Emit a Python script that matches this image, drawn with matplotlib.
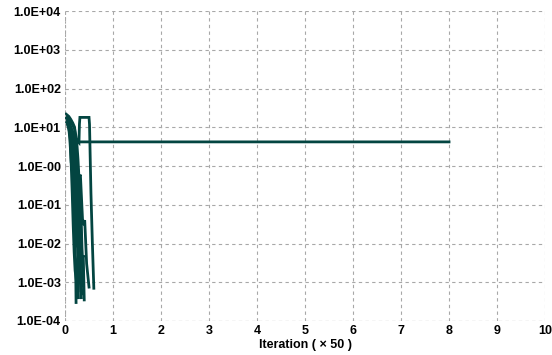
import matplotlib
matplotlib.use('Agg')
import matplotlib.pyplot as plt
from matplotlib.ticker import FixedLocator, FixedFormatter

# residual histories, x in units of 50 iterations
S1_X = [0.0, 0.03, 0.06, 0.09, 0.12, 0.14, 0.16, 0.17, 0.18, 0.19, 0.20, 0.21, 0.22, 0.23]
S1_Y = [20, 18, 14, 11, 6, 2.0, 2.5, 0.3, 0.4, 0.04, 0.05, 0.005, 0.004, 0.0003]
S2_X = [0.0, 0.04, 0.08, 0.12, 0.15, 0.17, 0.19, 0.21, 0.23, 0.25, 0.26, 0.27, 0.28]
S2_Y = [18, 15, 12, 8, 5, 1.5, 1.8, 0.15, 0.2, 0.01, 0.012, 0.001, 0.0004]
S3_X = [0.0, 0.05, 0.10, 0.14, 0.18, 0.22, 0.26, 0.30, 0.33, 0.36, 0.38, 0.40]
S3_Y = [16, 14, 11, 8, 5, 0.8, 1.0, 0.06, 0.08, 0.004, 0.005, 0.00035]
S4_X = [0.02, 0.06, 0.10, 0.14, 0.17, 0.20, 0.23, 0.26, 0.29, 0.32, 0.35]
S4_Y = [15, 12, 9, 7, 5, 1.0, 1.2, 0.05, 0.06, 0.002, 0.0005]
S5_X = [0.0, 0.05, 0.10, 0.15, 0.19, 0.22, 0.28, 0.32, 0.37, 0.41, 0.45, 0.50]
S5_Y = [19, 16, 12, 8, 5.5, 4.5, 0.5, 0.6, 0.03, 0.04, 0.003, 0.00075]
S6_X = [0.05, 0.08, 0.10, 0.13, 0.16, 0.19, 0.22, 0.25, 0.28, 0.30]
S6_Y = [14, 9, 5, 1.2, 1.4, 0.1, 0.12, 0.008, 0.01, 0.001]
S7_X = [0.0, 0.05, 0.10, 0.15, 0.20, 0.25, 0.29, 0.30, 0.31, 0.50, 0.51, 0.54, 0.57, 0.60]
S7_Y = [17, 14, 11, 8, 6, 4.5, 4.0, 12, 18, 18, 12, 0.2, 0.01, 0.0007]
S8_X = [0.0, 0.05, 0.10, 0.15, 0.20, 0.30, 1.0, 3.0, 5.0, 8.0]
S8_Y = [20, 15, 10, 6, 4.3, 4.2, 4.2, 4.2, 4.2, 4.2]
S9_X = [0.0, 0.04, 0.08, 0.11, 0.14, 0.16, 0.19, 0.22, 0.25, 0.28, 0.31, 0.34]
S9_Y = [17, 13, 9, 6, 4.8, 0.9, 0.7, 0.06, 0.05, 0.004, 0.003, 0.0004]
S10_X = [0.0, 0.04, 0.08, 0.12, 0.16, 0.20, 0.23, 0.25, 0.27, 0.29, 0.31, 0.33]
S10_Y = [23, 21, 19, 16, 13, 10, 3.0, 0.5, 0.08, 0.01, 0.002, 0.0006]
S11_X = [0.0, 0.03, 0.06, 0.09, 0.11, 0.13, 0.15, 0.17, 0.19, 0.21, 0.24, 0.26]
S11_Y = [22, 19, 15, 10, 4.5, 1.0, 0.2, 0.03, 0.006, 0.002, 0.001, 0.0004]
S12_X = [0.0, 0.05, 0.10, 0.15, 0.20, 0.24, 0.27, 0.30, 0.33, 0.36, 0.38]
S12_Y = [21, 18, 15, 12, 9, 5, 1.5, 0.3, 0.02, 0.003, 0.0008]

SERIES = [(S1_X, S1_Y), (S2_X, S2_Y), (S3_X, S3_Y), (S4_X, S4_Y), (S5_X, S5_Y),
          (S6_X, S6_Y), (S7_X, S7_Y), (S8_X, S8_Y), (S9_X, S9_Y), (S10_X, S10_Y),
          (S11_X, S11_Y), (S12_X, S12_Y)]

Y_TICKS = [1e-4, 1e-3, 1e-2, 1e-1, 1, 10, 100, 1000, 10000]
Y_LABELS = ['1.0E-04', '1.0E-03', '1.0E-02', '1.0E-01', '1.0E-00',
            '1.0E+01', '1.0E+02', '1.0E+03', '1.0E+04']
X_TICKS = list(range(0, 11))

plt.rcParams['font.family'] = ['Liberation Sans', 'DejaVu Sans']

fig = plt.figure(figsize=(5.52, 3.55), dpi=100)
ax = fig.add_axes([0.1178, 0.0958, 0.8696, 0.873])

for xs, ys in SERIES:
    ax.plot(xs, ys, color='#034541', lw=2.0, solid_joinstyle='miter')

ax.set_yscale('log')
ax.set_xlim(0, 10)
ax.set_ylim(1e-4, 1e4)
ax.yaxis.set_major_locator(FixedLocator(Y_TICKS))
ax.yaxis.set_major_formatter(FixedFormatter(Y_LABELS))
ax.yaxis.set_minor_locator(FixedLocator([]))
ax.set_xticks(X_TICKS)
ax.tick_params(length=0, pad=3, labelsize=9)
for lab in ax.get_xticklabels() + ax.get_yticklabels():
    lab.set_fontweight('bold')

ax.grid(True, color='#a8a8a8', linestyle=(0, (3, 3)), lw=0.8)
for s in ax.spines.values():
    s.set_visible(False)
ax.axvline(0, color='#a8a8a8', linestyle=(0, (2, 2)), lw=0.8)
ax.axhline(1e-4, color='#a8a8a8', linestyle=(0, (3, 3)), lw=0.8)

ax.set_xlabel('Iteration ( \u00d7 50 )', fontweight='bold', fontsize=9, labelpad=1)

fig.savefig('out.png', dpi=100)
